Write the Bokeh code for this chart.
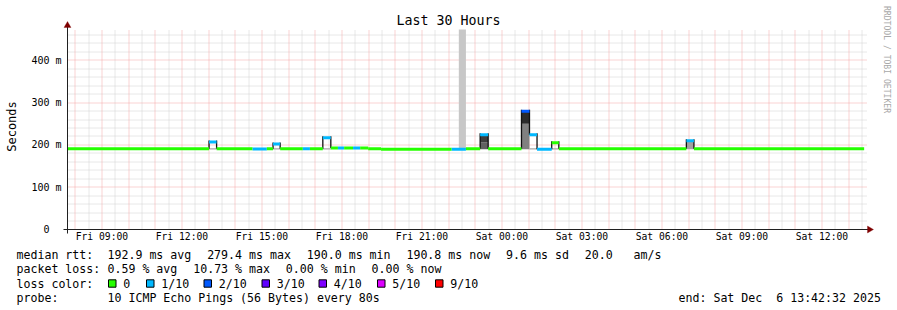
from math import pi, floor
import pandas as pd
from bokeh.plotting import figure
from bokeh.models import (Range1d, FixedTicker, Label, BoxAnnotation, PolyAnnotation,
                          ColumnDataSource, DatetimeTickFormatter)
from bokeh.embed import file_html
from bokeh.resources import INLINE

# ---------------- data ----------------
end_time = "2025-12-06 13:42:32"
span_hours = 30

seg_bounds = ["2025-12-05 07:42", "2025-12-05 13:01", "2025-12-05 13:18", "2025-12-05 14:39",
              "2025-12-05 15:11", "2025-12-05 15:25", "2025-12-05 15:41", "2025-12-05 16:32",
              "2025-12-05 16:48", "2025-12-05 17:17", "2025-12-05 17:35", "2025-12-05 17:51",
              "2025-12-05 18:05", "2025-12-05 18:25", "2025-12-05 18:41", "2025-12-05 18:59",
              "2025-12-05 19:28", "2025-12-05 22:07", "2025-12-05 22:39", "2025-12-05 23:11",
              "2025-12-05 23:29", "2025-12-06 00:44", "2025-12-06 01:02", "2025-12-06 01:19",
              "2025-12-06 01:52", "2025-12-06 02:08", "2025-12-06 06:55", "2025-12-06 07:12",
              "2025-12-06 13:35"]
seg_median = [191, 207, 191, 190.5, 191, 202, 191, 191, 191, 217, 193, 193, 193, 193, 193,
              191, 189.5, 189.5, 191, 224, 191, 279.4, 224, 190, 205, 191, 210, 191]
seg_loss = [0, 1, 0, 1, 0, 1, 0, 1, 0, 1, 0, 1, 0, 1, 0, 0, 0, 1, 0, 1, 0, 2, 1, 1, 0, 0, 1, 0]

smoke_start = ["2025-12-05 13:01", "2025-12-05 15:25", "2025-12-05 17:17", "2025-12-05 22:23",
               "2025-12-05 23:11", "2025-12-05 23:11", "2025-12-06 00:44", "2025-12-06 00:44",
               "2025-12-06 01:02", "2025-12-06 01:52", "2025-12-06 06:55"]
smoke_end = ["2025-12-05 13:18", "2025-12-05 15:41", "2025-12-05 17:35", "2025-12-05 22:39",
             "2025-12-05 23:29", "2025-12-05 23:29", "2025-12-06 01:02", "2025-12-06 01:02",
             "2025-12-06 01:19", "2025-12-06 02:08", "2025-12-06 07:12"]
smoke_low = [189, 189, 189, 190, 190, 206, 190, 250, 189, 189, 190]
smoke_high = [192, 192, 192, 480, 206, 224, 250, 279.4, 192, 192, 210]
smoke_density = [0.35, 0.35, 0.35, 0.22, 0.62, 0.76, 0.5, 0.83, 0.35, 0.35, 0.37]

y_ticks = [0, 100, 200, 300, 400]
y_tick_labels = ["0\u00a0\u00a0", "100 m", "200 m", "300 m", "400 m"]
y_max = 473

loss_keys = [0, 1, 2, 3, 4, 5, 9]
loss_labels = ["0", "1/10", "2/10", "3/10", "4/10", "5/10", "9/10"]
loss_colors = ["#26ff00", "#00b8ff", "#0059ff", "#5e00ff", "#7e00ff", "#dd00ff", "#ff0000"]

rtt_stats = [("192.9", "ms avg"), ("279.4", "ms max"), ("190.0", "ms min"), ("190.8", "ms now"), ("9.6", "ms sd")]
rtt_ams = "20.0"
loss_stats = [("0.59", "% avg"), ("10.73", "% max"), ("0.00", "% min"), ("0.00", "% now")]
probe_text = "10 ICMP Echo Pings (56 Bytes) every 80s"
end_text = "end: Sat Dec\u00a0 6 13:42:32 2025"

# ---------------- layout geometry ----------------
FONT = "DejaVu Sans Mono"
W, H = 897, 310
L, R, T, B = 67, 30, 29, 81          # plot area margins inside canvas
PW, PH = W - L - R, H - T - B        # 800 x 200

t_end = pd.Timestamp(end_time)
t_start = t_end - pd.Timedelta(hours=span_hours)
HOUR = pd.Timedelta(hours=1)
px_h = PW / span_hours
px_ms = PH / y_max
x_lo = t_start - pd.Timedelta(hours=L / px_h)
x_hi = t_end + pd.Timedelta(hours=R / px_h)
y_lo = -B / px_ms
y_hi = y_max + T / px_ms

p = figure(width=W, height=H, x_axis_type="datetime", output_backend="svg",
           toolbar_location=None, title=None,
           x_range=Range1d(x_lo, x_hi), y_range=Range1d(y_lo, y_hi),
           min_border=0)
p.outline_line_color = None
p.background_fill_color = "white"
p.border_fill_color = "white"
p.xgrid.visible = False
p.ygrid.visible = False

# ---------------- grid (drawn inside the plot area only, snapped to pixel centres) ----------------
def snap_t(t):
    sx = L + (t - t_start) / HOUR * px_h
    return t_start + pd.Timedelta(hours=(floor(sx) + 0.5 - L) / px_h)

def snap_v(v):
    sy = T + PH - v * px_ms
    return (T + PH - (floor(sy) + 0.5)) / px_ms

hourly = [snap_t(h) for h in pd.date_range(t_start.ceil("h"), t_end, freq="1h")]
halfh = [h + pd.Timedelta(minutes=30) for h in pd.date_range(t_start.floor("h"), t_end, freq="1h")]
halfh = [snap_t(h) for h in halfh if t_start <= h <= t_end]
y_minor = [snap_v(v) for v in range(20, y_max, 20) if v % 100]
y_major = [snap_v(v) for v in range(100, y_max, 100)]

MINOR = "#d0d0d0"
MAJOR = "#f4a6a6"
p.segment(x0=halfh, x1=halfh, y0=0, y1=y_max, line_color=MINOR, line_dash="1 1", line_width=1)
p.segment(x0=t_start, x1=t_end, y0=y_minor, y1=y_minor, line_color=MINOR, line_dash="1 1", line_width=1)
p.segment(x0=hourly, x1=hourly, y0=0, y1=y_max, line_color=MAJOR, line_dash="1 1", line_width=1)
p.segment(x0=t_start, x1=t_end, y0=y_major, y1=y_major, line_color=MAJOR, line_dash="1 1", line_width=1)

# ---------------- axes (fixed inside the frame) ----------------
def ms(ts):
    return pd.Timestamp(ts).value / 1e6

three_h = pd.date_range(t_start.ceil("3h"), t_end, freq="3h")
xa, ya = p.xaxis[0], p.yaxis[0]
xa.fixed_location = 0
ya.fixed_location = ms(t_start)
xa.ticker = FixedTicker(ticks=[ms(h) for h in three_h])
fmt = "%a %H:%M"
xa.formatter = DatetimeTickFormatter(hours=fmt, hourmin=fmt, days=fmt, minutes=fmt,
                                     minsec=fmt, seconds=fmt, months=fmt, years=fmt)
ya.ticker = FixedTicker(ticks=y_ticks)
ya.major_label_overrides = dict(zip(y_ticks, y_tick_labels))
for ax in (xa, ya):
    ax.axis_line_color = None
    ax.major_tick_line_color = None
    ax.minor_tick_line_color = None
    ax.major_tick_in = 0
    ax.major_label_text_font = FONT
    ax.major_label_text_color = "black"
xa.major_tick_out = 1
ya.major_tick_out = 3
xa.major_label_text_font_size = "9.7px"
ya.major_label_text_font_size = "10px"
xa.major_label_standoff = 0
ya.major_label_standoff = 3

# ---------------- smoke ----------------
def grey(d):
    g = int(round(255 * (1 - d)))
    return "#%02x%02x%02x" % (g, g, g)

smoke_src = ColumnDataSource(dict(
    left=[pd.Timestamp(s) for s in smoke_start], right=[pd.Timestamp(s) for s in smoke_end],
    bottom=smoke_low, top=[min(h, y_max) for h in smoke_high],
    color=[grey(d) for d in smoke_density]))
p.quad(left="left", right="right", bottom="bottom", top="top", source=smoke_src,
       fill_color="color", line_color=None)

# ---------------- edges of steps ----------------
bounds = [pd.Timestamp(b) for b in seg_bounds]
ex, ey0, ey1 = [], [], []
for i in range(1, len(seg_median)):
    a, b = seg_median[i - 1], seg_median[i]
    if abs(a - b) > 3:
        ex.append(bounds[i]); ey0.append(min(a, b)); ey1.append(max(a, b) + 1.5 / px_ms)
p.segment(x0=ex, x1=ex, y0=ey0, y1=ey1, line_color="#111111", line_width=1.3)

# ---------------- median line ----------------
cmap = dict(zip(loss_keys, loss_colors))
med_src = ColumnDataSource(dict(x0=bounds[:-1], x1=bounds[1:], y=seg_median,
                                color=[cmap[l] for l in seg_loss]))
p.segment(x0="x0", x1="x1", y0="y", y1="y", source=med_src, line_color="color",
          line_width=3, line_cap="butt")

# ---------------- texts & decorations (canvas units) ----------------
U = "canvas"

def text(x, y, s, size="11.6px", align="left", angle=0, color="black"):
    p.add_layout(Label(x=x, y=y, x_units=U, y_units=U, text=s,
                       text_font=FONT, text_font_size=size, text_align=align,
                       text_baseline="middle", angle=angle, text_color=color))

def box(l, r, t, b, fill, line=None):
    p.add_layout(BoxAnnotation(left=l, right=r, top=t, bottom=b,
                               left_units=U, right_units=U, top_units=U, bottom_units=U,
                               fill_color=fill, fill_alpha=1,
                               line_color=line, line_width=1, line_alpha=1))

# axis lines + arrow heads
AX = "#202020"
AR = "#7f0000"
box(63, 868, 228.5, 229.5, AX)
box(66.5, 67.5, 24, 233, AX)
p.add_layout(PolyAnnotation(xs=[867, 867, 873], ys=[225.5, 232.5, 229], xs_units=U, ys_units=U,
                            fill_color=AR, fill_alpha=1, line_color=AR))
p.add_layout(PolyAnnotation(xs=[63.5, 70.5, 67], ys=[27, 27, 21], xs_units=U, ys_units=U,
                            fill_color=AR, fill_alpha=1, line_color=AR))

text(448, 20, "Last 30 Hours", size="13.3px", align="center")
text(11, 126, "Seconds", size="12px", align="center", angle=pi / 2)
text(886, 59, "RRDTOOL / TOBI OETIKER", size="8.1px", align="center", angle=-pi / 2,
     color="#a8a8a8")

CW = 6.97
GAP = 16
y1, y2, y3, y4 = 254, 268.5, 283, 297
text(16, y1, "median rtt:")
x = 107
for v, u in rtt_stats:
    s = v + " " + u
    text(x, y1, s)
    x += len(s) * CW + GAP
text(x, y1, rtt_ams)
text(x + (len(rtt_ams) + 3) * CW, y1, "am/s")

text(16, y2, "packet loss:")
x = 107
for v, u in loss_stats:
    s = v + " " + u
    text(x, y2, s)
    x += len(s) * CW + GAP

text(16, y3, "loss color:")
box_x = [108, 146, 203.5, 261.5, 318.5, 377, 435]
for bx, lab, col in zip(box_x, loss_labels, loss_colors):
    box(bx, bx + 7.5, 279.3, 286.7, col, "black")
    text(bx + 14.7, y3, lab)

text(16, y4, "probe:")
text(107, y4, probe_text)
text(678, y4, end_text)

open("out.html", "w").write(file_html(p, INLINE))
